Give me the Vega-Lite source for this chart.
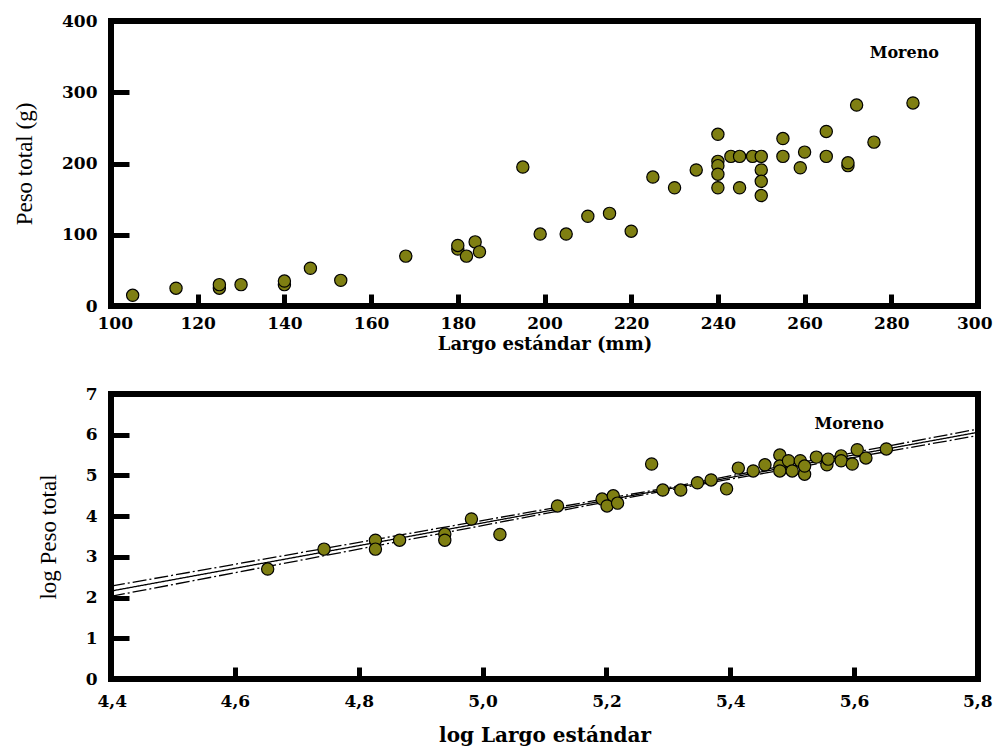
{
  "$schema": "https://vega.github.io/schema/vega-lite/v6.json",
  "padding": {"left": 10, "top": 9, "right": 0, "bottom": 5},
  "spacing": 88,
  "bounds": "flush",
  "background": "white",
  "config": {
    "view": {"stroke": "black", "strokeWidth": 6},
    "axis": {
      "domain": false,
      "grid": false,
      "tickColor": "black",
      "tickWidth": 5,
      "labelFont": "DejaVu Serif",
      "labelFontWeight": "bold",
      "labelFontSize": 17,
      "labelColor": "black",
      "titleColor": "black",
      "labelOverlap": false
    },
    "axisX": {"tickSize": -12, "labelPadding": 21, "labelFlush": true, "labelFlushOffset": 14, "titleFont": "DejaVu Serif", "titleFontWeight": "bold", "titleFontSize": 18, "titlePadding": 4},
    "axisY": {"tickSize": -18, "labelPadding": 32, "labelFlush": false, "titleFont": "Liberation Serif", "titleFontWeight": "normal", "titleFontSize": 23}
  },
  "datasets": {
    "bruto": [
      {"largo": 105, "peso": 15}, {"largo": 115, "peso": 25}, {"largo": 125, "peso": 25}, {"largo": 125, "peso": 30},
      {"largo": 130, "peso": 30}, {"largo": 140, "peso": 30}, {"largo": 140, "peso": 35}, {"largo": 146, "peso": 53},
      {"largo": 153, "peso": 36}, {"largo": 168, "peso": 70}, {"largo": 180, "peso": 80}, {"largo": 180, "peso": 85},
      {"largo": 182, "peso": 70}, {"largo": 184, "peso": 90}, {"largo": 185, "peso": 76}, {"largo": 195, "peso": 195},
      {"largo": 199, "peso": 101}, {"largo": 205, "peso": 101}, {"largo": 210, "peso": 126}, {"largo": 215, "peso": 130},
      {"largo": 220, "peso": 105}, {"largo": 225, "peso": 181}, {"largo": 230, "peso": 166}, {"largo": 235, "peso": 191},
      {"largo": 240, "peso": 241}, {"largo": 240, "peso": 203}, {"largo": 240, "peso": 197}, {"largo": 240, "peso": 185},
      {"largo": 240, "peso": 166}, {"largo": 243, "peso": 210}, {"largo": 245, "peso": 210}, {"largo": 245, "peso": 166},
      {"largo": 248, "peso": 210}, {"largo": 250, "peso": 210}, {"largo": 250, "peso": 191}, {"largo": 250, "peso": 175},
      {"largo": 250, "peso": 155}, {"largo": 255, "peso": 235}, {"largo": 255, "peso": 210}, {"largo": 259, "peso": 194},
      {"largo": 260, "peso": 216}, {"largo": 265, "peso": 245}, {"largo": 265, "peso": 210}, {"largo": 270, "peso": 197},
      {"largo": 270, "peso": 201}, {"largo": 272, "peso": 282}, {"largo": 276, "peso": 230}, {"largo": 285, "peso": 285}
    ],
    "logaritmo": [
      {"loglargo": 4.653, "logpeso": 2.70}, {"loglargo": 4.744, "logpeso": 3.19}, {"loglargo": 4.827, "logpeso": 3.41},
      {"loglargo": 4.827, "logpeso": 3.19}, {"loglargo": 4.866, "logpeso": 3.41}, {"loglargo": 4.939, "logpeso": 3.56},
      {"loglargo": 4.939, "logpeso": 3.41}, {"loglargo": 4.982, "logpeso": 3.93}, {"loglargo": 5.028, "logpeso": 3.55},
      {"loglargo": 5.121, "logpeso": 4.25}, {"loglargo": 5.193, "logpeso": 4.42}, {"loglargo": 5.211, "logpeso": 4.50},
      {"loglargo": 5.201, "logpeso": 4.25}, {"loglargo": 5.218, "logpeso": 4.32}, {"loglargo": 5.273, "logpeso": 5.28},
      {"loglargo": 5.291, "logpeso": 4.64}, {"loglargo": 5.320, "logpeso": 4.64}, {"loglargo": 5.347, "logpeso": 4.82},
      {"loglargo": 5.369, "logpeso": 4.89}, {"loglargo": 5.394, "logpeso": 4.67}, {"loglargo": 5.413, "logpeso": 5.18},
      {"loglargo": 5.437, "logpeso": 5.11}, {"loglargo": 5.456, "logpeso": 5.26}, {"loglargo": 5.480, "logpeso": 5.50},
      {"loglargo": 5.480, "logpeso": 5.23}, {"loglargo": 5.480, "logpeso": 5.11}, {"loglargo": 5.494, "logpeso": 5.36},
      {"loglargo": 5.500, "logpeso": 5.11}, {"loglargo": 5.513, "logpeso": 5.36}, {"loglargo": 5.520, "logpeso": 5.03},
      {"loglargo": 5.520, "logpeso": 5.23}, {"loglargo": 5.539, "logpeso": 5.45}, {"loglargo": 5.556, "logpeso": 5.26},
      {"loglargo": 5.558, "logpeso": 5.40}, {"loglargo": 5.579, "logpeso": 5.48}, {"loglargo": 5.579, "logpeso": 5.36},
      {"loglargo": 5.597, "logpeso": 5.28}, {"loglargo": 5.605, "logpeso": 5.63}, {"loglargo": 5.619, "logpeso": 5.43},
      {"loglargo": 5.652, "logpeso": 5.65}
    ],
    "rectas": [
      {"serie": "superior", "loglargo": 4.4, "logpeso": 2.28}, {"serie": "superior", "loglargo": 5.3, "logpeso": 4.70}, {"serie": "superior", "loglargo": 5.8, "logpeso": 6.14},
      {"serie": "ajuste", "loglargo": 4.4, "logpeso": 2.16}, {"serie": "ajuste", "loglargo": 5.3, "logpeso": 4.67}, {"serie": "ajuste", "loglargo": 5.8, "logpeso": 6.06},
      {"serie": "inferior", "loglargo": 4.4, "logpeso": 2.03}, {"serie": "inferior", "loglargo": 5.3, "logpeso": 4.64}, {"serie": "inferior", "loglargo": 5.8, "logpeso": 5.98}
    ],
    "etiqueta1": [{"x": 283, "y": 355, "t": "Moreno"}],
    "etiqueta2": [{"x": 5.592, "y": 6.27, "t": "Moreno"}]
  },
  "vconcat": [
    {
      "width": 867,
      "height": 285,
      "layer": [
        {
          "data": {"name": "bruto"},
          "mark": {"type": "point", "shape": "circle", "filled": true, "fill": "#7f7f12", "stroke": "black", "strokeWidth": 1.2, "size": 150, "opacity": 1},
          "encoding": {
            "x": {"field": "largo", "type": "quantitative", "scale": {"domain": [100, 300], "nice": false, "zero": false},
                  "axis": {"title": "Largo estándar (mm)", "values": [100, 120, 140, 160, 180, 200, 220, 240, 260, 280, 300], "format": "d"}},
            "y": {"field": "peso", "type": "quantitative", "scale": {"domain": [0, 400], "nice": false},
                  "axis": {"title": "Peso total (g)", "values": [0, 100, 200, 300, 400], "format": "d", "titlePadding": 25}}
          }
        },
        {
          "data": {"name": "etiqueta1"},
          "mark": {"type": "text", "font": "DejaVu Serif", "fontWeight": "bold", "fontSize": 16, "color": "black", "align": "center", "baseline": "middle"},
          "encoding": {
            "x": {"field": "x", "type": "quantitative"},
            "y": {"field": "y", "type": "quantitative"},
            "text": {"field": "t"}
          }
        }
      ]
    },
    {
      "width": 867,
      "height": 285,
      "layer": [
        {
          "data": {"name": "rectas"},
          "mark": {"type": "line", "color": "black", "strokeWidth": 1.3},
          "encoding": {
            "x": {"field": "loglargo", "type": "quantitative", "scale": {"domain": [4.4, 5.8], "nice": false, "zero": false},
                  "axis": {"title": "log Largo estándar", "values": [4.4, 4.6, 4.8, 5.0, 5.2, 5.4, 5.6, 5.8], "labelExpr": "replace(format(datum.value, '.1f'), '.', ',')", "labelPadding": 26, "titlePadding": 16, "titleFontSize": 20}},
            "y": {"field": "logpeso", "type": "quantitative", "scale": {"domain": [0, 7], "nice": false},
                  "axis": {"title": "log Peso total", "values": [0, 1, 2, 3, 4, 5, 6, 7], "format": "d", "titlePadding": 25}},
            "detail": {"field": "serie"},
            "strokeDash": {"field": "serie", "type": "nominal", "scale": {"domain": ["superior", "ajuste", "inferior"], "range": [[14, 3, 2, 3], [1, 0], [14, 3, 2, 3]]}, "legend": null}
          }
        },
        {
          "data": {"name": "logaritmo"},
          "mark": {"type": "point", "shape": "circle", "filled": true, "fill": "#7f7f12", "stroke": "black", "strokeWidth": 1.2, "size": 150, "opacity": 1},
          "encoding": {
            "x": {"field": "loglargo", "type": "quantitative"},
            "y": {"field": "logpeso", "type": "quantitative"}
          }
        },
        {
          "data": {"name": "etiqueta2"},
          "mark": {"type": "text", "font": "DejaVu Serif", "fontWeight": "bold", "fontSize": 16, "color": "black", "align": "center", "baseline": "middle"},
          "encoding": {
            "x": {"field": "x", "type": "quantitative"},
            "y": {"field": "y", "type": "quantitative"},
            "text": {"field": "t"}
          }
        }
      ]
    }
  ]
}
